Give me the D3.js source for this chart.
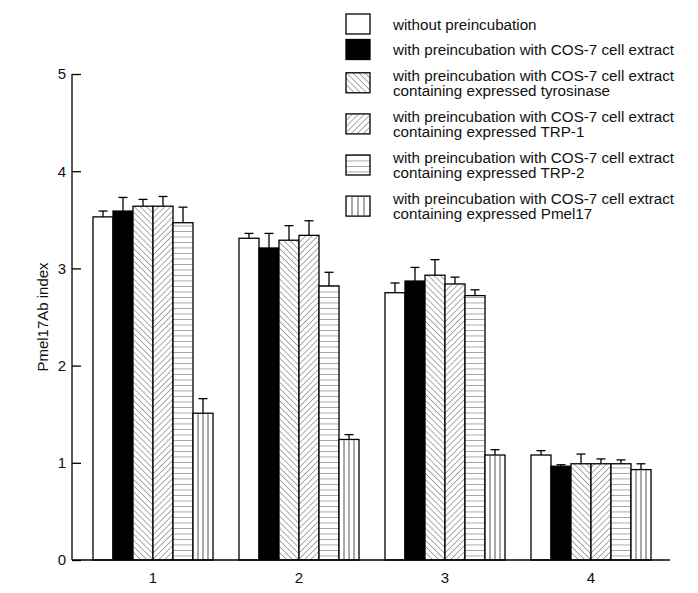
<!DOCTYPE html>
<html><head><meta charset="utf-8">
<script src="https://cdn.jsdelivr.net/npm/d3@7"></script>
<style>
body{margin:0;background:#fff}
svg{display:block}
text{font-family:"Liberation Sans",Arial,Helvetica,sans-serif;fill:#111}
</style>
</head><body>
<svg id="chart" width="698" height="593"></svg>
<script>
// ---- data ----
const groups = ["1", "2", "3", "4"];
const seriesKeys = ["none", "cos7", "tyr", "trp1", "trp2", "pmel"];
const seriesLabels = [
  ["without preincubation"],
  ["with preincubation with COS-7 cell extract"],
  ["with preincubation with COS-7 cell extract", "containing expressed tyrosinase"],
  ["with preincubation with COS-7 cell extract", "containing expressed TRP-1"],
  ["with preincubation with COS-7 cell extract", "containing expressed TRP-2"],
  ["with preincubation with COS-7 cell extract", "containing expressed Pmel17"]
];
const valuesNone = [3.53, 3.31, 2.75, 1.08];
const valuesCos7 = [3.59, 3.21, 2.87, 0.965];
const valuesTyr  = [3.64, 3.29, 2.93, 0.99];
const valuesTrp1 = [3.64, 3.34, 2.84, 0.99];
const valuesTrp2 = [3.47, 2.82, 2.72, 0.99];
const valuesPmel = [1.51, 1.24, 1.08, 0.93];
const errNone = [0.06, 0.05, 0.10, 0.045];
const errCos7 = [0.14, 0.15, 0.14, 0.015];
const errTyr  = [0.07, 0.15, 0.16, 0.10];
const errTrp1 = [0.10, 0.15, 0.07, 0.05];
const errTrp2 = [0.16, 0.14, 0.06, 0.04];
const errPmel = [0.15, 0.05, 0.055, 0.06];
const yTicks = [0, 1, 2, 3, 4, 5];
const yLabel = "Pmel17Ab index";

const allValues = [valuesNone, valuesCos7, valuesTyr, valuesTrp1, valuesTrp2, valuesPmel];
const allErrs = [errNone, errCos7, errTyr, errTrp1, errTrp2, errPmel];

// ---- layout ----
const svg = d3.select("#chart");
const axisX0 = 72, axisX1 = 670, baseY = 560, topY = 74;

const y = d3.scaleLinear().domain([0, 5]).range([baseY, topY]);
const x = d3.scaleBand().domain(groups).range([80, 664]).paddingInner(0.178).paddingOuter(0.089);
const xs = d3.scaleBand().domain(seriesKeys).range([0, x.bandwidth()]);

// patterns
const defs = svg.append("defs");
function linePattern(id, angle, spacing) {
  const p = defs.append("pattern").attr("id", id).attr("patternUnits", "userSpaceOnUse")
    .attr("width", spacing).attr("height", spacing)
    .attr("patternTransform", `rotate(${angle})`);
  p.append("rect").attr("width", spacing).attr("height", spacing).attr("fill", "#fff");
  p.append("line").attr("x1", 0).attr("y1", 0).attr("x2", 0).attr("y2", spacing)
    .attr("stroke", "#555").attr("stroke-width", 1);
}
linePattern("pTyr", -45, 4.3);
linePattern("pTrp1", 45, 4.3);
linePattern("pTrp2", 90, 5.5);

const fills = {none: "#fff", cos7: "#000", tyr: "url(#pTyr)", trp1: "url(#pTrp1)", trp2: "url(#pTrp2)", pmel: "#fff"};

// flatten
const bars = [];
groups.forEach((g, gi) => {
  seriesKeys.forEach((k, si) => {
    bars.push({g, k, v: allValues[si][gi], e: allErrs[si][gi]});
  });
});

const barG = svg.append("g");
// error bars (drawn first, behind)
const eb = barG.selectAll("g.err").data(bars).join("g").attr("class", "err");
eb.append("line")
  .attr("x1", d => x(d.g) + xs(d.k) + xs.bandwidth() / 2)
  .attr("x2", d => x(d.g) + xs(d.k) + xs.bandwidth() / 2)
  .attr("y1", d => y(d.v)).attr("y2", d => y(d.v + d.e))
  .attr("stroke", "#000").attr("stroke-width", 1.3);
eb.append("line")
  .attr("x1", d => x(d.g) + xs(d.k) + xs.bandwidth() / 2 - 4.5)
  .attr("x2", d => x(d.g) + xs(d.k) + xs.bandwidth() / 2 + 4.5)
  .attr("y1", d => y(d.v + d.e)).attr("y2", d => y(d.v + d.e))
  .attr("stroke", "#000").attr("stroke-width", 1.3);

barG.selectAll("rect.bar").data(bars).join("rect").attr("class", "bar")
  .attr("x", d => x(d.g) + xs(d.k))
  .attr("y", d => y(d.v))
  .attr("width", xs.bandwidth())
  .attr("height", d => y(0) - y(d.v))
  .attr("fill", d => fills[d.k])
  .attr("stroke", "#000").attr("stroke-width", 1.3);

// vertical lines in Pmel17 bars
const pm = bars.filter(d => d.k === "pmel");
[1, 2, 3].forEach(q => {
  barG.selectAll(null).data(pm).join("line")
    .attr("x1", d => x(d.g) + xs(d.k) + xs.bandwidth() * q / 4)
    .attr("x2", d => x(d.g) + xs(d.k) + xs.bandwidth() * q / 4)
    .attr("y1", d => y(d.v) + 0.7).attr("y2", d => y(0))
    .attr("stroke", "#555").attr("stroke-width", 1);
});

// axes
const yAxis = d3.axisLeft(y).tickValues(yTicks).tickFormat(d3.format("d"))
  .tickSizeInner(-9).tickSizeOuter(0).tickPadding(6);
const gy = svg.append("g").attr("transform", `translate(${axisX0},0)`).call(yAxis);
gy.select(".domain").remove();
gy.selectAll(".tick line").attr("stroke", "#000").attr("stroke-width", 1.3);
gy.selectAll(".tick text").attr("font-size", 15).attr("fill", "#111")
  .style("font-family", '"Liberation Sans",Arial,sans-serif');
svg.append("line").attr("x1", axisX0).attr("x2", axisX0).attr("y1", y(0)).attr("y2", y(5))
  .attr("stroke", "#000").attr("stroke-width", 1.3);

const xAxis = d3.axisBottom(x).tickSize(0).tickPadding(12);
const gx = svg.append("g").attr("transform", `translate(0,${baseY})`).call(xAxis);
gx.select(".domain").remove();
gx.selectAll(".tick text").attr("font-size", 15).attr("fill", "#111")
  .style("font-family", '"Liberation Sans",Arial,sans-serif');
svg.append("line").attr("x1", axisX0).attr("x2", axisX1).attr("y1", baseY).attr("y2", baseY)
  .attr("stroke", "#000").attr("stroke-width", 1.3);

svg.append("text").attr("transform", `translate(48,${(baseY + topY) / 2}) rotate(-90)`)
  .attr("text-anchor", "middle").attr("font-size", 15).text(yLabel);

// legend
const lg = svg.append("g");
const boxX = 346, boxW = 24, boxH = 20, textX = 393, lineH = 15.6;
let baseline = 29.5;
seriesKeys.forEach((k, i) => {
  const lines = seriesLabels[i];
  const lastB = baseline + lineH * (lines.length - 1);
  const boxCy = (baseline + lastB) / 2 - 5.5;
  const bx = lg.append("g").attr("transform", `translate(${boxX},${boxCy - boxH / 2})`);
  bx.append("rect").attr("width", boxW).attr("height", boxH)
    .attr("fill", fills[k]).attr("stroke", "#000").attr("stroke-width", 1.3);
  if (k === "pmel") {
    [1, 2, 3].forEach(q => bx.append("line").attr("x1", boxW * q / 4).attr("x2", boxW * q / 4)
      .attr("y1", 0).attr("y2", boxH).attr("stroke", "#555").attr("stroke-width", 1));
  }
  const t = lg.append("text").attr("x", textX).attr("y", baseline).attr("font-size", 15.2);
  lines.forEach((s, j) => t.append("tspan").attr("x", textX).attr("y", baseline + j * lineH).text(s));
  baseline = lastB + 25.5;
});
</script>
</body></html>
